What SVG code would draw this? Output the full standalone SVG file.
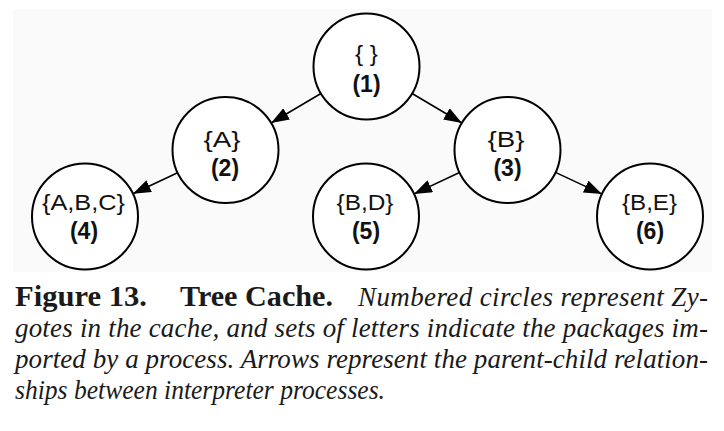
<svg xmlns="http://www.w3.org/2000/svg" width="724" height="431" viewBox="0 0 724 431">
<style>
.node circle{fill:#fff;stroke:#000;stroke-width:2}
.lbl{font-family:"Liberation Sans",Arial,sans-serif;font-size:22px;text-anchor:middle;fill:#111}
.num{font-family:"Liberation Sans",Arial,sans-serif;font-size:23px;font-weight:bold;text-anchor:middle;fill:#111}
.edge{stroke:#000;stroke-width:1.6;fill:none;marker-end:url(#ah)}
.capb{font-family:"Liberation Serif","Times New Roman",serif;font-size:29px;font-weight:bold;fill:#1a1a1a}
.capi{font-family:"Liberation Serif","Times New Roman",serif;font-size:27px;font-style:italic;fill:#1a1a1a}
</style>
<defs>
<marker id="ah" markerUnits="userSpaceOnUse" markerWidth="20" markerHeight="14" refX="18" refY="6.5" orient="auto">
<path d="M0,0 L18,6.5 L0,13 z" fill="#000"/>
</marker>
</defs>
<rect x="13" y="9" width="699" height="263" fill="#fafafa"/>
<g id="connectors">
<line class="edge" x1="320.9" y1="93.5" x2="271.1" y2="123"/>
<line class="edge" x1="412.1" y1="93.5" x2="461.9" y2="123"/>
<line class="edge" x1="177.6" y1="172.7" x2="132.9" y2="193.8"/>
<line class="edge" x1="459.5" y1="172.5" x2="414" y2="193.9"/>
<line class="edge" x1="555.5" y1="172.4" x2="602" y2="194.1"/>
</g>
<g id="node1" class="node"><circle cx="366.5" cy="66.5" r="53"/><text class="lbl" x="366.5" y="61" textLength="23" lengthAdjust="spacingAndGlyphs">{ }</text><text class="num" x="366.5" y="92">(1)</text></g>
<g id="node2" class="node"><circle cx="225.5" cy="150" r="53"/><text class="lbl" x="222" y="147" textLength="37" lengthAdjust="spacingAndGlyphs">{A}</text><text class="num" x="225" y="176">(2)</text></g>
<g id="node3" class="node"><circle cx="507.5" cy="150" r="53"/><text class="lbl" x="506" y="147" textLength="37" lengthAdjust="spacingAndGlyphs">{B}</text><text class="num" x="507.5" y="176">(3)</text></g>
<g id="node4" class="node"><circle cx="85" cy="216.5" r="53"/><text class="lbl" x="83.5" y="210" textLength="83" lengthAdjust="spacingAndGlyphs">{A,B,C}</text><text class="num" x="84" y="239">(4)</text></g>
<g id="node5" class="node"><circle cx="366" cy="216.5" r="53"/><text class="lbl" x="365" y="210" textLength="57" lengthAdjust="spacingAndGlyphs">{B,D}</text><text class="num" x="366" y="239">(5)</text></g>
<g id="node6" class="node"><circle cx="650" cy="216.5" r="53"/><text class="lbl" x="649.5" y="210" textLength="55" lengthAdjust="spacingAndGlyphs">{B,E}</text><text class="num" x="650" y="239">(6)</text></g>
<g id="caption">
<text class="capb" x="15" y="306" textLength="132" lengthAdjust="spacingAndGlyphs">Figure 13.</text>
<text class="capb" x="180" y="306" textLength="153" lengthAdjust="spacingAndGlyphs">Tree Cache.</text>
<text class="capi" x="358" y="306" textLength="350" lengthAdjust="spacing">Numbered circles represent Zy-</text>
<text class="capi" x="15" y="337" textLength="693" lengthAdjust="spacing">gotes in the cache, and sets of letters indicate the packages im-</text>
<text class="capi" x="15" y="368" textLength="693" lengthAdjust="spacing">ported by a process. Arrows represent the parent-child relation-</text>
<text class="capi" x="15" y="399" textLength="370" lengthAdjust="spacingAndGlyphs">ships between interpreter processes.</text>
</g>
</svg>
